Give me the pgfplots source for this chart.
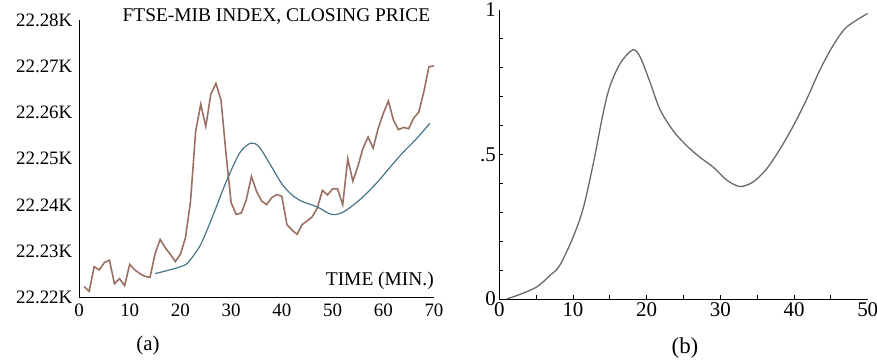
\documentclass[border=0pt]{standalone}
\usepackage{pgfplots}
\pgfplotsset{compat=1.18}
\usepackage{fontspec}
\setmainfont{Liberation Serif}
\definecolor{brn}{RGB}{155,112,98}
\definecolor{blu}{RGB}{72,116,136}
\definecolor{gry}{RGB}{105,105,105}
\begin{document}
\begin{tikzpicture}
\useasboundingbox (0,0) rectangle (877bp,363bp);
\begin{axis}[
  at={(79bp,65.3bp)}, anchor=south west,
  scale only axis, width=355bp, height=277.7bp,
  xmin=0, xmax=70, ymin=22220, ymax=22280,
  axis lines=left, axis line style={-, black, line width=0.8bp},
  scaled y ticks=false, scaled x ticks=false,
  xtick={0,10,...,70}, ytick={22220,22230,...,22280},
  yticklabels={22.22K,22.23K,22.24K,22.25K,22.26K,22.27K,22.28K},
  tick style={draw=none},
  /pgf/number format/assume math mode=true,
  ticklabel style={font=\fontsize{19}{22}\selectfont},
  yticklabel style={xshift=-1bp},
  xticklabel style={yshift=-1bp},
  clip=false,
]
\addplot[brn, line width=1.6bp] coordinates {
(1,22222.4)(2,22221.4)(3,22226.7)(4,22226)(5,22227.6)(6,22228.1)(7,22223)(8,22224.1)(9,22222.6)(10,22227.2)
(11,22226)(12,22225.2)(13,22224.6)(14,22224.4)(15,22229.5)(16,22232.6)(17,22230.8)(18,22229.4)(19,22227.8)(20,22229.4)
(21,22233)(22,22240.9)(23,22255.9)(24,22261.8)(25,22257)(26,22264)(27,22266.3)(28,22262.7)(29,22251)(30,22240.5)
(31,22238)(32,22238.3)(33,22241.2)(34,22246.2)(35,22243)(36,22240.9)(37,22240.1)(38,22241.6)(39,22242.3)(40,22241.9)
(41,22235.8)(42,22234.6)(43,22233.7)(44,22235.8)(45,22236.6)(46,22237.5)(47,22239.4)(48,22243.2)(49,22242.2)(50,22243.5)
(51,22243.5)(52,22240.1)(53,22250)(54,22245.2)(55,22248.4)(56,22252.3)(57,22254.7)(58,22252.3)(59,22256.6)(60,22259.8)
(61,22262.5)(62,22258.4)(63,22256.3)(64,22256.8)(65,22256.5)(66,22258.8)(67,22260.1)(68,22264.5)(69,22269.9)(70,22270.1)
};
\addplot[blu, line width=1.2bp, smooth] coordinates {
(15,22225.2)(17.5,22225.9)(20,22226.7)(21.5,22227.6)(24,22231.5)(26.5,22238)(29,22245)(31.7,22251.3)(33.9,22253.4)
(35.5,22252.6)(37.7,22248.8)(40,22244.6)(42,22242.2)(44,22240.8)(47,22239.6)(49.8,22238)(52.1,22238.5)(55.4,22241.2)
(58.7,22244.8)(61.5,22248.4)(64,22251.5)(66.5,22254.3)(69.2,22257.7)
};
\node[anchor=east, font=\fontsize{19.5}{22}\selectfont, inner sep=0pt] at (rel axis cs:0.99,1) [yshift=3bp] {FTSE-MIB INDEX, CLOSING PRICE};
\node[anchor=east, font=\fontsize{19.5}{22}\selectfont, inner sep=0pt] at (rel axis cs:1,0) [yshift=17bp] {TIME (MIN.)};
\end{axis}
\begin{axis}[
  at={(499.3bp,64bp)}, anchor=south west,
  scale only axis, width=368.4bp, height=289bp,
  xmin=0, xmax=50, ymin=0, ymax=1,
  axis x line*=bottom, axis y line*=left,
  axis line style={-, black, line width=0.8bp},
  xtick={0,10,...,50}, ytick={0,0.5,1}, yticklabels={0,.5,1},
  tick style={draw=none},
  /pgf/number format/assume math mode=true,
  ticklabel style={font=\fontsize{21}{24}\selectfont},
  clip=false,
]
\addplot[gry, line width=1.3bp, smooth] coordinates {
(1,0)(2.8,0.016)(5.1,0.042)(6.9,0.082)(8.2,0.116)(10,0.213)(11.4,0.315)(12.8,0.474)(14.1,0.644)(15,0.735)
(16.4,0.815)(18.1,0.862)(19.1,0.838)(20.5,0.747)(21.8,0.656)(23.6,0.582)(25.4,0.531)(27.2,0.491)(29,0.457)
(30.9,0.411)(32.7,0.389)(34.5,0.406)(36.3,0.451)(38.1,0.519)(39.9,0.599)(41.7,0.690)(43.5,0.792)(45.3,0.877)
(47.1,0.940)(50,0.988)
};
\pgfplotsinvokeforeach{5,10,15,20,25,30,35,40,45}{
  \draw[black, line width=0.8bp] (axis cs:#1,0) -- ++(0,4bp);
}
\pgfplotsinvokeforeach{0.1,0.2,0.3,0.4,0.5,0.6,0.7,0.8,0.9}{
  \draw[black, line width=0.8bp] (axis cs:0,#1) -- ++(4bp,0);
}
\end{axis}
\node[font=\fontsize{21}{24}\selectfont] at (148bp,18bp) {(a)};
\node[font=\fontsize{23}{26}\selectfont] at (685bp,15bp) {(b)};
\end{tikzpicture}
\end{document}
